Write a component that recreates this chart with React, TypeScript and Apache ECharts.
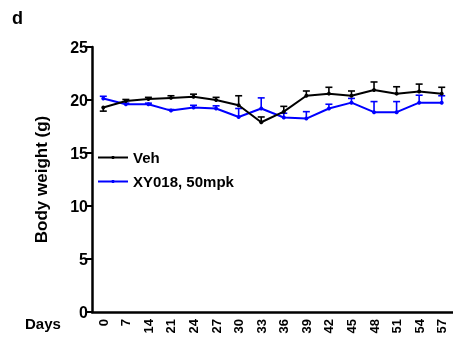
import React, { useEffect, useRef } from "react";
import * as echarts from "echarts";

const days = ["0", "7", "14", "21", "24", "27", "30", "33", "36", "39", "42", "45", "48", "51", "54", "57"];
const veh = [19.3, 19.9, 20.1, 20.2, 20.3, 20.0, 19.5, 17.9, 18.9, 20.4, 20.6, 20.4, 20.95, 20.6, 20.8, 20.6];
const vehErr = [-0.35, 0.15, 0.15, 0.2, 0.25, 0.25, 0.9, 0.5, 0.5, 0.45, 0.6, 0.45, 0.75, 0.65, 0.7, 0.6];
const xy = [20.15, 19.6, 19.6, 19.0, 19.3, 19.2, 18.4, 19.2, 18.35, 18.25, 19.2, 19.75, 18.85, 18.85, 19.75, 19.75];
const xyErr = [0.2, 0.1, 0.1, 0.1, 0.2, 0.25, 0.8, 1.0, 0.4, 0.65, 0.4, 0.4, 1.0, 1.0, 0.7, 0.65];
const yTicks = [0, 5, 10, 15, 20, 25];

const FONT = "Arial, 'Liberation Sans', sans-serif";

function errSeries(name: string, vals: number[], errs: number[], color: string) {
  return {
    name,
    type: "custom",
    z: 1,
    data: vals.map((v, i) => [i, v, errs[i]]),
    encode: { x: 0, y: 1 },
    renderItem: (params: any, api: any) => {
      const i = api.value(0);
      const v = api.value(1);
      const e = api.value(2);
      const p0 = api.coord([i, v]);
      const p1 = api.coord([i, v + e]);
      const st = { stroke: color, lineWidth: 1.6 };
      return {
        type: "group",
        children: [
          { type: "line", shape: { x1: p0[0], y1: p0[1], x2: p1[0], y2: p1[1] }, style: st },
          { type: "line", shape: { x1: p1[0] - 3.5, y1: p1[1], x2: p1[0] + 3.5, y2: p1[1] }, style: st },
        ],
      };
    },
  };
}

export default function App() {
  const ref = useRef<HTMLDivElement>(null);
  useEffect(() => {
    if (!ref.current) return;
    const chart = echarts.init(ref.current, null, { renderer: "svg" });
    chart.setOption({
      animation: false,
      textStyle: { fontFamily: FONT },
      grid: { left: 92, right: 0, top: 47, bottom: 31, containLabel: false },
      legend: {
        data: ["Veh", "XY018, 50mpk"],
        orient: "vertical",
        left: 92,
        top: 145,
        itemWidth: 30,
        itemHeight: 4,
        itemGap: 9,
        textStyle: { fontFamily: FONT, fontWeight: "bold", fontSize: 15, color: "#000" },
      },
      graphic: [
        { type: "text", left: 12, top: 9, style: { text: "d", font: `bold 18px ${FONT}`, fill: "#000" } },
        { type: "text", left: 25, top: 316, style: { text: "Days", font: `bold 15px ${FONT}`, fill: "#000" } },
      ],
      xAxis: {
        type: "category",
        data: days,
        boundaryGap: true,
        axisLine: { lineStyle: { color: "#000", width: 2.5 } },
        axisTick: { alignWithLabel: true, length: 5, lineStyle: { color: "#000", width: 2 } },
        axisLabel: { rotate: 90, margin: 7, color: "#000", fontWeight: "bold", fontSize: 13, fontFamily: FONT, interval: 0 },
      },
      yAxis: {
        type: "value",
        min: 0,
        max: 25,
        interval: 5,
        name: "Body weight (g)",
        nameLocation: "middle",
        nameGap: 42,
        nameTextStyle: { color: "#000", fontWeight: "bold", fontSize: 17, fontFamily: FONT },
        splitLine: { show: false },
        axisLine: { show: true, lineStyle: { color: "#000", width: 2.5 } },
        axisTick: { show: true, length: 6, lineStyle: { color: "#000", width: 2 } },
        axisLabel: {
          margin: 4,
          color: "#000",
          fontWeight: "bold",
          fontSize: 16,
          fontFamily: FONT,
          formatter: (v: number) => (yTicks.includes(v) ? String(v) : ""),
        },
      },
      series: [
        errSeries("vehErr", veh, vehErr, "#000"),
        errSeries("xyErr", xy, xyErr, "#0000ff"),
        {
          name: "Veh",
          type: "line",
          data: veh,
          z: 3,
          symbol: "circle",
          symbolSize: 4,
          lineStyle: { color: "#000", width: 2 },
          itemStyle: { color: "#000" },
        },
        {
          name: "XY018, 50mpk",
          type: "line",
          data: xy,
          z: 2,
          symbol: "circle",
          symbolSize: 4,
          lineStyle: { color: "#0000ff", width: 2 },
          itemStyle: { color: "#0000ff" },
        },
      ],
    });
    return () => chart.dispose();
  }, []);
  return <div ref={ref} style={{ position: "fixed", left: 0, top: 0, width: 453, height: 343 }} />;
}
